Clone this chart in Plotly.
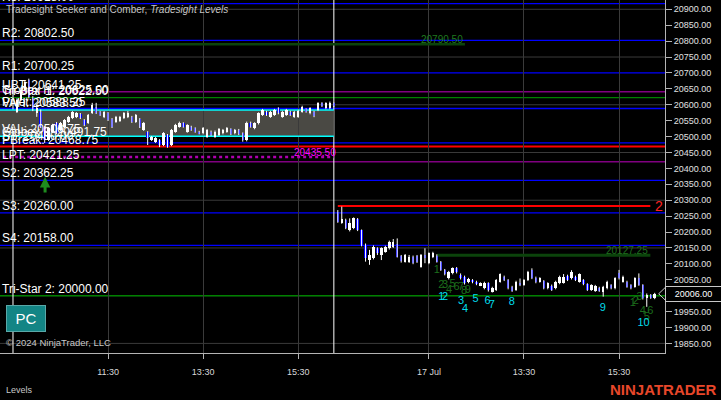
import plotly.graph_objects as go

# ---------------- data ----------------
# Day 1 (16 Jul) 5-minute bars, 09:35 .. 16:15
d1_open = [20577, 20615, 20646, 20678, 20621, 20574, 20577, 20530, 20489, 20514,
           20543, 20521, 20530, 20546, 20558, 20562, 20571, 20552, 20543, 20574,
           20593, 20577, 20562, 20574, 20555, 20546, 20549, 20558, 20562, 20562,
           20546, 20555, 20521, 20514, 20489, 20483, 20489, 20473.5, 20505, 20473.5,
           20515.5, 20531, 20541.5, 20515.5, 20531, 20526, 20515.5, 20510.5, 20499.5, 20515.5,
           20499.5, 20505, 20510.5, 20515.5, 20523, 20510.5, 20521, 20510.5, 20489, 20543.5,
           20526, 20541.5, 20568, 20578, 20562.5, 20568, 20589, 20562.5, 20568, 20578,
           20562.5, 20562.5, 20578, 20586, 20573, 20578, 20583.5, 20604.5, 20589, 20589,
           20604.5]
d1_high = [20620, 20652, 20676, 20682, 20627, 20599, 20585, 20533, 20530, 20540,
           20546, 20546, 20555, 20565, 20580, 20577, 20574, 20555, 20571, 20606,
           20606, 20580, 20580, 20577, 20558, 20565, 20565, 20577, 20580, 20565,
           20571, 20558, 20546, 20517, 20502, 20499, 20492, 20514, 20508, 20524,
           20540, 20547, 20545, 20539, 20534, 20529, 20518, 20530, 20524, 20519,
           20519, 20527, 20524, 20530, 20526, 20524, 20524, 20513, 20547, 20547,
           20545, 20576, 20587, 20581, 20581, 20587, 20592, 20581, 20587, 20581,
           20581, 20584, 20597, 20589, 20592, 20581, 20608, 20608, 20608, 20610,
           20607]
d1_low = [20574, 20612, 20643, 20620, 20580, 20562, 20527, 20480, 20486, 20511,
          20508, 20518, 20527, 20543, 20555, 20558, 20555, 20533, 20540, 20571,
          20571, 20565, 20558, 20549, 20527, 20543, 20546, 20555, 20558, 20543,
          20543, 20527, 20518, 20473.5, 20486, 20480, 20467, 20470, 20465, 20470,
          20512, 20528, 20528, 20512, 20518, 20512, 20507, 20507, 20496, 20502,
          20496, 20502, 20507, 20512, 20505, 20507, 20505, 20484, 20485, 20528,
          20523, 20538, 20565, 20565, 20559, 20565, 20570, 20559, 20565, 20565,
          20559, 20559, 20575, 20575, 20570, 20561, 20580, 20593, 20586, 20586,
          20593]
d1_close = [20615, 20646, 20671.5, 20624, 20590, 20590, 20530, 20489, 20527, 20536,
            20511, 20543, 20552, 20562, 20577, 20574, 20558, 20536, 20568, 20599,
            20574, 20568, 20577, 20552, 20530, 20562, 20562, 20574, 20574, 20546,
            20568, 20530, 20543, 20495.5, 20499, 20495.5, 20473.5, 20511, 20468, 20521,
            20536, 20543.5, 20531, 20536, 20521, 20515.5, 20510.5, 20526, 20521, 20505,
            20515.5, 20523, 20521, 20526, 20508, 20521, 20508, 20489, 20543.5, 20531,
            20541.5, 20573, 20583.5, 20568, 20578, 20583.5, 20573, 20578, 20583.5, 20568,
            20578, 20581, 20594, 20578, 20589, 20564.5, 20604.5, 20596, 20604.5, 20604.5,
            20596]

# Day 2 (17 Jul) 5-minute bars, 09:35 .. 16:15
d2_open = [20264, 20230, 20238, 20206.5, 20212, 20241, 20206, 20159, 20112, 20117,
           20149, 20128, 20138, 20149, 20154, 20164, 20125, 20107, 20107, 20122,
           20125, 20091, 20128, 20102, 20122, 20125, 20107, 20081, 20054.5, 20070,
           20086, 20065, 20060, 20042, 20049, 20044, 20033, 20023, 20039, 20013,
           20018, 20044, 20060, 20049, 20028, 20018, 20041, 20033.5, 20049, 20081,
           20056.5, 20044, 20046, 20023, 20031.5, 20023, 20039, 20041, 20063, 20054.5,
           20060, 20044, 20049, 20036, 20018, 20015, 20025, 20012.5, 20023, 20033.5,
           20023, 20070.5, 20044, 20044, 20033.5, 20028, 20054.5, 20033.5, 19991.5, 20002,
           19991.5]
d2_high = [20269, 20280, 20242, 20243, 20246, 20244, 20208, 20164, 20144, 20158,
           20152, 20152, 20157, 20173, 20178, 20180, 20128, 20131, 20128, 20126,
           20128, 20131, 20149, 20136, 20138, 20130, 20109, 20084, 20078, 20089,
           20090, 20070, 20063, 20056, 20052, 20047, 20042, 20044, 20042, 20028,
           20052, 20070, 20063, 20052, 20031, 20047, 20054, 20052, 20078, 20086,
           20060, 20058, 20049, 20042, 20035, 20047, 20063, 20068, 20066, 20080,
           20063, 20070, 20052, 20039, 20036, 20034, 20028, 20031, 20047, 20036,
           20058, 20081, 20063, 20047, 20036, 20058, 20070, 20036, 20007, 20005,
           20009]
d2_low = [20229, 20226, 20209, 20202, 20209, 20203, 20155, 20107, 20097, 20114,
          20128, 20112, 20135, 20145, 20150, 20120, 20104, 20104, 20103, 20099,
          20103, 20088, 20102, 20099, 20118, 20104, 20078, 20064, 20051, 20067,
          20070, 20051, 20035, 20039, 20039, 20033, 20030, 20020, 20013, 20010,
          20015, 20041, 20046, 20020, 20012, 20015, 20030, 20031, 20046, 20052,
          20039, 20041, 20020, 20020, 20015, 20020, 20036, 20038, 20046, 20051,
          20046, 20041, 20033, 20015, 20015, 20012, 20012, 19997, 20020, 20020,
          20020, 20051, 20041, 20025, 20020, 20025, 20031, 19988, 19965, 19990,
          19989]
d2_close = [20232, 20240, 20212, 20227.5, 20243, 20206, 20159, 20117, 20128, 20154,
            20133, 20149, 20154, 20170, 20170, 20122, 20108, 20128, 20122, 20102,
            20107, 20128, 20117, 20133, 20133, 20107, 20081, 20067, 20075.5, 20086,
            20073, 20054.5, 20039, 20052, 20042, 20036, 20039, 20039, 20018, 20023,
            20049, 20067, 20049, 20023, 20015, 20044, 20033.5, 20049, 20075.5, 20054.5,
            20042, 20054.5, 20023, 20039, 20018, 20044, 20060, 20060, 20049, 20075.5,
            20049, 20067, 20036, 20018, 20033.5, 20031.5, 20015, 20028, 20044, 20023,
            20054.5, 20054.5, 20060, 20028, 20023, 20054.5, 20033.5, 19991.5, 20002, 19993.5,
            20006]

last_price = 20006.00

# bar slots: slot 0 / 81 = session breaks (last bar of prior session)
d1_slots = list(range(1, 82))
d2_slots = list(range(82, 163))
session_breaks = [0, 81]

time_tick_slots = [24, 48, 72, 105, 129, 153]
time_tick_text = ["11:30", "13:30", "15:30", "17 Jul", "13:30", "15:30"]
price_ticks = list(range(19850, 20901, 50))
grid_levels = list(range(19850, 20901, 150))

# level lines with labels (drawn full width unless noted)
level_text = ["R3: 20918.00", "R2: 20802.50", "R1: 20700.25", "UBT: 20641.25",
              "Globex H: 20625.00", "Tri-Star 1: 20622.50", "Pivot: 20588.25",
              "VAH: 20583.50", "VAL: 20500.75", "Globex L: 20491.75", "S1: 20480.00",
              "PBreak: 20468.75", "LPT: 20421.25", "S2: 20362.25", "S3: 20260.00",
              "S4: 20158.00", "Tri-Star 2: 20000.00"]
level_value = [20918.0, 20802.5, 20700.25, 20641.25, 20625.0, 20622.5, 20588.25,
               20583.5, 20500.75, 20491.75, 20480.0, 20468.75, 20421.25, 20362.25,
               20260.0, 20158.0, 20000.0]

# value area (session 1)
va_high = 20583.5
va_low = 20500.75

# segment levels: (value, start slot, end slot, label)
seg_value = [20790.50, 20127.25, 20281.75, 20435.50]
seg_start = [-4, 107.1, 82, -4]
seg_end = [114.1, 160.9, 160.9, 81]
seg_label = ["20790.50", "20127.25", "2", "20435.50"]

# counters
gc1_text = ["1", "2", "3", "4", "5", "6", "7", "8", "9"]
gc1_x = [107.0, 108.1, 109.1, 110.1, 111.0, 112.0, 113.1, 113.9, 114.8]
gc1_y = [20081, 20034, 20034, 20018, 20037, 20027, 20027, 20012.5, 20018]
gc2_text = ["1", "2", "3", "4", "5", "6"]
gc2_x = [156.5, 157.2, 158.2, 159.0, 160.0, 160.9]
gc2_y = [19976, 19983, 19995, 19952, 19932, 19950]
cc_text = ["1", "2", "3", "4", "5", "6", "7", "8", "9", "10"]
cc_x = [108.1, 109.1, 113.1, 114.1, 116.8, 119.8, 120.9, 125.9, 148.9, 159.2]
cc_y = [19994, 19994, 19983, 19958, 19989, 19983, 19971, 19979, 19962, 19913]

signal_slot = 8.1
signal_price = 20373

# ---------------- styles ----------------
BLUE = "#0000ff"
CYAN = "#00ffff"
RED = "#ff0000"
PURPLE = "#800080"
GREEN = "#008000"
DKGREEN = "#0b430b"
FONT = "Arial, Liberation Sans, sans-serif"
level_style = {
    "R3": (BLUE, 1.2), "R2": (BLUE, 1.2), "R1": (BLUE, 1.2), "UBT": (PURPLE, 1.5),
    "Globex H": None, "Tri-Star 1": (GREEN, 1.2), "Pivot": (BLUE, 1.5),
    "VAH": None, "VAL": None, "Globex L": None, "S1": (BLUE, 1.2),
    "PBreak": (RED, 2), "LPT": (PURPLE, 1.5), "S2": (BLUE, 1.2), "S3": (BLUE, 1.2),
    "S4": (BLUE, 1.2), "Tri-Star 2": (GREEN, 1.5),
}
seg_style = [(DKGREEN, 2.5, "solid", "#1f7a1f", 10),
             (DKGREEN, 3, "solid", "#1f6e1f", 10),
             (RED, 2, "solid", "#ff2020", 14),
             ("#b000b0", 2.5, "dot", "#ff00ff", 10)]

X_RANGE = [-3.28, 164.6]
Y_RANGE = [19819.9, 20929.2]

fig = go.Figure()

# wicks
slots = d1_slots + d2_slots
opens = d1_open + d2_open
highs = d1_high + d2_high
lows = d1_low + d2_low
closes = d1_close + d2_close
wx, wy = [], []
for s, h, l in zip(slots, highs, lows):
    wx += [s, s, None]
    wy += [l, h, None]
fig.add_trace(go.Scatter(x=wx, y=wy, mode="lines", line=dict(color="white", width=1),
                         hoverinfo="skip", showlegend=False))

up = [(s, o, c) for s, o, c in zip(slots, opens, closes) if c >= o]
dn = [(s, o, c) for s, o, c in zip(slots, opens, closes) if c < o]
fig.add_trace(go.Bar(x=[u[0] for u in up], base=[u[1] for u in up],
                     y=[u[2] - u[1] for u in up], width=0.62,
                     marker=dict(color="white", line=dict(width=0)), showlegend=False))
fig.add_trace(go.Bar(x=[d[0] for d in dn], base=[d[2] for d in dn],
                     y=[d[1] - d[2] for d in dn], width=0.62,
                     marker=dict(color=BLUE, line=dict(width=0)), showlegend=False))

# counters
fig.add_trace(go.Scatter(x=gc1_x + gc2_x, y=gc1_y + gc2_y, mode="text",
                         text=gc1_text + gc2_text,
                         textfont=dict(color="#1c6e1c", size=11, family=FONT),
                         showlegend=False, hoverinfo="skip"))
fig.add_trace(go.Scatter(x=cc_x, y=cc_y, mode="text", text=cc_text,
                         textfont=dict(color="#00dcec", size=11, family=FONT),
                         showlegend=False, hoverinfo="skip"))

shapes = []
# value area box
shapes.append(dict(type="rect", xref="x", yref="y", x0=-4, x1=81, y0=va_low, y1=va_high,
                   fillcolor="#4a4944", line=dict(width=0), layer="below"))
for g in grid_levels:
    shapes.append(dict(type="line", xref="paper", yref="y", x0=0, x1=1, y0=g, y1=g,
                       line=dict(color="#3a3a3a", width=1), layer="below"))
shapes.append(dict(type="line", xref="x", yref="y", x0=-4, x1=81, y0=va_high, y1=va_high,
                   line=dict(color=CYAN, width=1.5), layer="between"))
shapes.append(dict(type="line", xref="x", yref="y", x0=-4, x1=81, y0=va_low, y1=va_low,
                   line=dict(color=CYAN, width=1.5), layer="between"))
for t, v in zip(level_text, level_value):
    st = level_style[t.split(":")[0]]
    if st is None:
        continue
    shapes.append(dict(type="line", xref="paper", yref="y", x0=0, x1=1, y0=v, y1=v,
                       line=dict(color=st[0], width=st[1]), layer="between"))
for v, a, b, stl in zip(seg_value, seg_start, seg_end, seg_style):
    shapes.append(dict(type="line", xref="x", yref="y", x0=a, x1=b, y0=v, y1=v,
                       line=dict(color=stl[0], width=stl[1], dash=stl[2]), layer="between"))
for sb in session_breaks:
    shapes.append(dict(type="line", xref="x", yref="paper", x0=sb, x1=sb, y0=0, y1=1,
                       line=dict(color="white", width=1), layer="between"))
# last price pointer
shapes.append(dict(type="path", xref="paper", yref="y",
                   path=f"M 1.0,{last_price + 19} L 0.9905,{last_price} L 1.0,{last_price - 19}",
                   line=dict(color="#c8c8c8", width=1)))

ann = []
for t, v in zip(level_text, level_value):
    ann.append(dict(xref="paper", yref="y", x=0, y=v, xanchor="left", yanchor="bottom",
                    xshift=0, yshift=-2, text=t, showarrow=False,
                    font=dict(color="white", size=12, family=FONT)))
for v, b, lab, stl in zip(seg_value, seg_end, seg_label, seg_style):
    if lab == "2":
        ann.append(dict(xref="x", yref="y", x=b, y=v, xanchor="left", yanchor="middle",
                        xshift=3, text=lab, showarrow=False,
                        font=dict(color=stl[3], size=stl[4], family=FONT)))
    else:
        ann.append(dict(xref="x", yref="y", x=b if lab != "20435.50" else 82.1, y=v,
                        xanchor="right", yanchor="middle", yshift=5, text=lab,
                        showarrow=False, font=dict(color=stl[3], size=stl[4], family=FONT)))
# signal arrow
ann.append(dict(xref="x", yref="y", x=signal_slot, y=signal_price, ax=0, ay=17,
                text="", showarrow=True, arrowhead=2, arrowsize=0.7, arrowwidth=3,
                arrowcolor="#1e8b1e"))
# title
ann.append(dict(xref="paper", yref="paper", x=0, y=1, xanchor="left", yanchor="top",
                xshift=4, yshift=-2,
                text="Tradesight Seeker and Comber, <i>Tradesight Levels</i>",
                showarrow=False, font=dict(color="#c4c4c4", size=10, family=FONT)))
# PC button
ann.append(dict(xref="paper", yref="paper", x=5.5 / 665, y=(353 - 305) / 353,
                xanchor="left", yanchor="top", text="PC", showarrow=False,
                width=36, height=23, bgcolor="#138585", bordercolor="#5aa8a8", borderwidth=1,
                font=dict(color="white", size=15, family=FONT)))
# copyright
ann.append(dict(xref="paper", yref="paper", x=0, y=(353 - 342) / 353, xanchor="left",
                yanchor="middle", xshift=4, text="© 2024 NinjaTrader, LLC", showarrow=False,
                font=dict(color="#c8c8c8", size=9.5, family=FONT)))
# last price marker
ann.append(dict(xref="paper", yref="y", x=1, y=last_price, xanchor="left", yanchor="middle",
                xshift=0, text=f"{last_price:.2f}", showarrow=False, bgcolor="black",
                bordercolor="#c8c8c8", borderwidth=1, borderpad=2, width=51,
                font=dict(color="white", size=9, family=FONT)))
# footer
ann.append(dict(xref="paper", yref="paper", x=0, y=(353 - 390) / 353, xanchor="left",
                yanchor="middle", xshift=4, text="Levels", showarrow=False,
                font=dict(color="#c8c8c8", size=9, family=FONT)))
ann.append(dict(xref="paper", yref="paper", x=719 / 665, y=(353 - 389) / 353,
                xanchor="right", yanchor="middle", text="<b>NINJATRADER</b>", showarrow=False,
                font=dict(color="#e8472a", size=15, family=FONT)))

fig.update_layout(
    width=721, height=400,
    margin=dict(l=0, r=56, t=0, b=47),
    paper_bgcolor="black", plot_bgcolor="black",
    barmode="overlay", bargap=0, showlegend=False,
    shapes=shapes, annotations=ann,
    xaxis=dict(range=X_RANGE, tickvals=time_tick_slots, ticktext=time_tick_text,
               showgrid=True, gridcolor="#3a3a3a", gridwidth=1, zeroline=False,
               ticks="outside", ticklen=5, tickcolor="#b4b4b4",
               showline=True, linecolor="#b4b4b4", linewidth=1,
               tickfont=dict(color="#d8d8d8", size=9, family=FONT),
               ticklabelstandoff=5, automargin=False, fixedrange=True),
    yaxis=dict(range=Y_RANGE, side="right", tickvals=price_ticks,
               ticktext=[f"{p:.2f}" for p in price_ticks],
               showgrid=False, zeroline=False, ticks="outside", ticklen=6,
               tickcolor="#b4b4b4", showline=True, linecolor="#b4b4b4", linewidth=1,
               tickfont=dict(color="#e0e0e0", size=9, family=FONT),
               automargin=False, fixedrange=True),
)

fig.write_html("out.html", config={"displayModeBar": False},
               post_script="document.body.style.margin='0';document.body.style.background='black';")
